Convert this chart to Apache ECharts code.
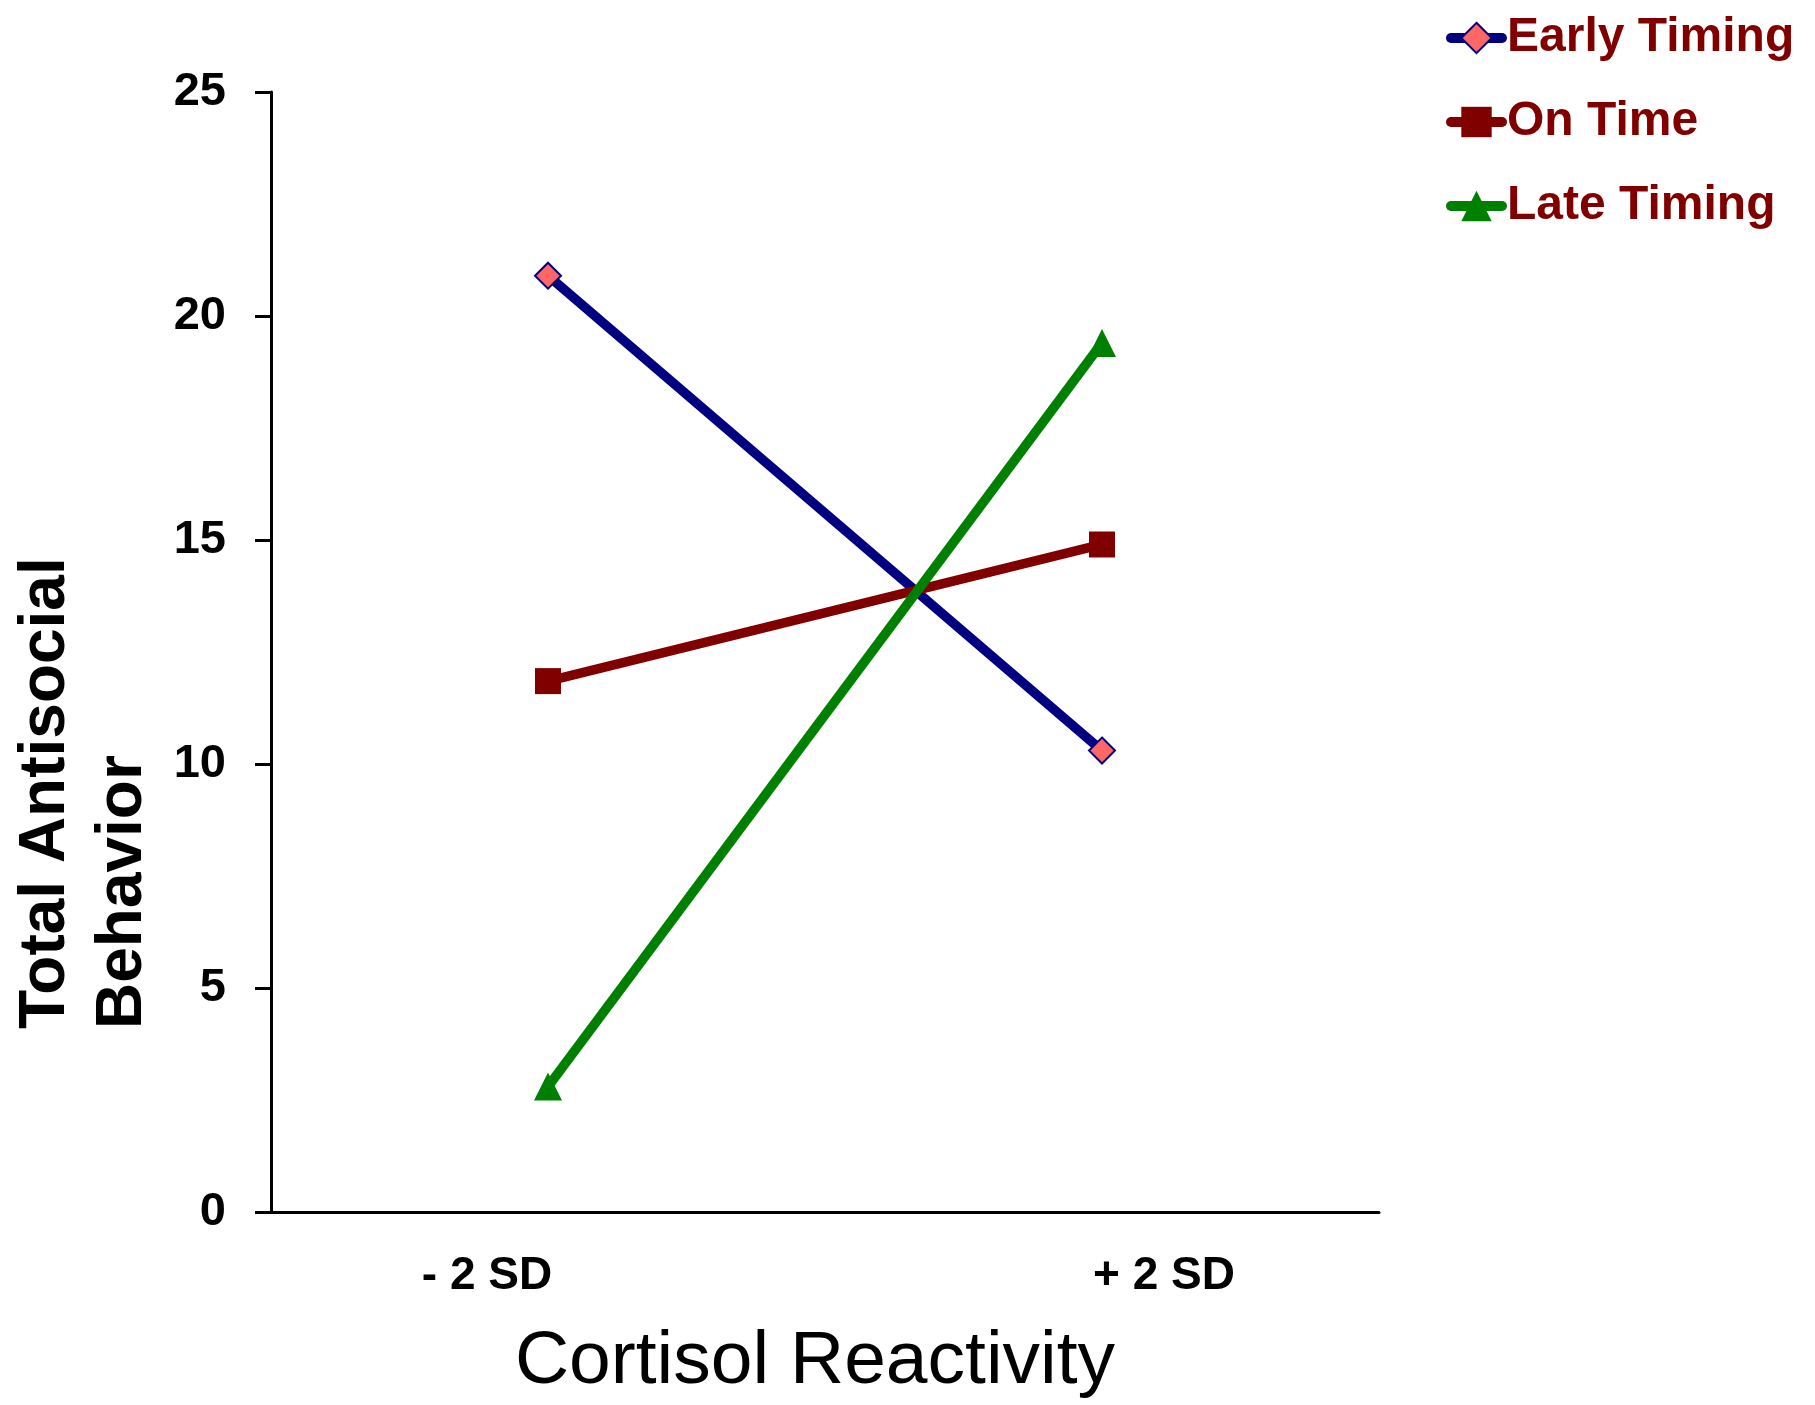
<!DOCTYPE html>
<html><head><meta charset="utf-8">
<script src="https://cdn.jsdelivr.net/npm/echarts@6/dist/echarts.min.js"></script>
<style>html,body{margin:0;padding:0;background:#fff}#c{width:1815px;height:1405px}</style>
</head><body><div id="c"></div>
<script>
const categories = ['- 2 SD', '+ 2 SD'];
const earlyTiming = [20.9, 10.3];
const onTime = [11.85, 14.9];
const lateTiming = [2.8, 19.4];
const yTicks = [0, 5, 10, 15, 20, 25];
const seriesNames = ['Early Timing', 'On Time', 'Late Timing'];
const xTitle = 'Cortisol Reactivity';
const yTitle = 'Total Antisocial\nBehavior';

const FF = '"Liberation Sans", Arial, sans-serif';
const chart = echarts.init(document.getElementById('c'), null, {renderer: 'canvas'});
chart.setOption({
  animation: false,
  backgroundColor: '#ffffff',
  grid: {left: 271, right: 436, top: 92, bottom: 184, containLabel: false},
  legend: {
    orient: 'vertical', left: 1441, top: 9,
    itemWidth: 51, itemHeight: 38, itemGap: 36,
    lineStyle: {width: 10, cap: 'round'},
    textStyle: {color: '#800000', fontFamily: FF, fontWeight: 'bold', fontSize: 48, lineHeight: 48},
    data: seriesNames
  },
  xAxis: {
    type: 'category', data: categories, boundaryGap: true,
    axisLine: {lineStyle: {color: '#000', width: 3}},
    axisTick: {show: false},
    splitLine: {show: false},
    axisLabel: {
      margin: 41,
      formatter: (v, i) => (i === 0 ? '{l|' : '{r|') + v + '}',
      rich: {
        l: {padding: [0, 122, 0, 0], fontSize: 46, lineHeight: 46, fontWeight: 'bold', fontFamily: FF, color: '#000'},
        r: {padding: [0, 0, 0, 124], fontSize: 46, lineHeight: 46, fontWeight: 'bold', fontFamily: FF, color: '#000'}
      }
    },
    name: xTitle, nameLocation: 'middle', nameGap: 113,
    nameTextStyle: {fontSize: 75, fontFamily: FF, color: '#000', padding: [0, 20, 0, 0]}
  },
  yAxis: {
    type: 'value', min: yTicks[0], max: yTicks[yTicks.length - 1], interval: yTicks[1] - yTicks[0],
    axisLine: {show: true, lineStyle: {color: '#000', width: 3}},
    axisTick: {show: true, length: 16, lineStyle: {color: '#000', width: 3}},
    splitLine: {show: false},
    axisLabel: {margin: 45, fontSize: 47, fontWeight: 'bold', fontFamily: FF, color: '#000'}
  },
  graphic: [{
    type: 'text', x: 8, y: 1029, rotation: Math.PI / 2,
    style: {text: yTitle, fontSize: 64, lineHeight: 77, fontWeight: 'bold', fontFamily: FF,
      fill: '#000', align: 'left', verticalAlign: 'top'}
  }],
  series: [
    {name: seriesNames[0], type: 'line', data: earlyTiming, symbol: 'diamond', symbolSize: 26,
      lineStyle: {color: '#000080', width: 9.5},
      itemStyle: {color: '#FF6666', borderColor: '#000080', borderWidth: 2}},
    {name: seriesNames[1], type: 'line', data: onTime, symbol: 'rect', symbolSize: 26,
      lineStyle: {color: '#800000', width: 9.5},
      itemStyle: {color: '#800000', borderColor: '#800000', borderWidth: 0}},
    {name: seriesNames[2], type: 'line', data: lateTiming, symbol: 'triangle', symbolSize: 28,
      lineStyle: {color: '#008000', width: 9.5},
      itemStyle: {color: '#008000', borderColor: '#008000', borderWidth: 0}}
  ]
});
</script></body></html>
